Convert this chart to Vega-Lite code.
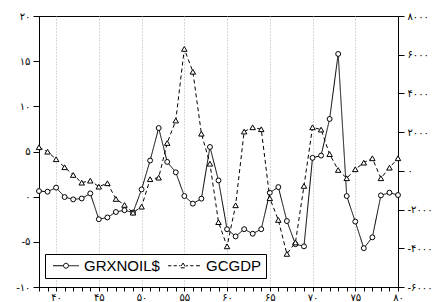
{
  "$schema": "https://vega.github.io/schema/vega-lite/v6.json",
  "autosize": {"type": "none"},
  "width": 359,
  "height": 271,
  "padding": {"left": 39, "top": 16, "right": 39, "bottom": 15},
  "background": "white",
  "config": {
    "view": {"stroke": "black", "strokeWidth": 1},
    "axis": {"domainColor": "black", "tickColor": "black", "labelColor": "black", "labelFont": "DejaVu Sans", "labelFontSize": 10, "title": null, "grid": false, "labelOverlap": false, "labelFlush": false, "labelBound": false}
  },
  "data": {"values": [
    {"year": 38, "grx": 0.62, "gcgdp": 1220},
    {"year": 39, "grx": 0.55, "gcgdp": 990},
    {"year": 40, "grx": 1.0, "gcgdp": 600},
    {"year": 41, "grx": -0.04, "gcgdp": 186},
    {"year": 42, "grx": -0.3, "gcgdp": -212},
    {"year": 43, "grx": -0.2, "gcgdp": -610},
    {"year": 44, "grx": 0.36, "gcgdp": -506},
    {"year": 45, "grx": -2.5, "gcgdp": -816},
    {"year": 46, "grx": -2.3, "gcgdp": -640},
    {"year": 47, "grx": -1.7, "gcgdp": -1450},
    {"year": 48, "grx": -1.5, "gcgdp": -1760},
    {"year": 49, "grx": -1.75, "gcgdp": -2160},
    {"year": 50, "grx": 0.8, "gcgdp": -1850},
    {"year": 51, "grx": 4.0, "gcgdp": -430},
    {"year": 52, "grx": 7.6, "gcgdp": -350},
    {"year": 53, "grx": 3.85, "gcgdp": 1440},
    {"year": 54, "grx": 2.7, "gcgdp": 2600},
    {"year": 55, "grx": 0.07, "gcgdp": 6300},
    {"year": 56, "grx": -0.77, "gcgdp": 5120},
    {"year": 57, "grx": -0.22, "gcgdp": 1920},
    {"year": 58, "grx": 5.5, "gcgdp": 370},
    {"year": 59, "grx": 1.8, "gcgdp": -2650},
    {"year": 60, "grx": -3.6, "gcgdp": -3900},
    {"year": 61, "grx": -4.4, "gcgdp": -1780},
    {"year": 62, "grx": -3.6, "gcgdp": 2030},
    {"year": 63, "grx": -4.1, "gcgdp": 2250},
    {"year": 64, "grx": -3.6, "gcgdp": 2150},
    {"year": 65, "grx": 0.44, "gcgdp": -1415},
    {"year": 66, "grx": 1.06, "gcgdp": -2536},
    {"year": 67, "grx": -2.7, "gcgdp": -4290},
    {"year": 68, "grx": -5.26, "gcgdp": -3700},
    {"year": 69, "grx": -5.5, "gcgdp": -780},
    {"year": 70, "grx": 4.3, "gcgdp": 2250},
    {"year": 71, "grx": 4.55, "gcgdp": 2130},
    {"year": 72, "grx": 8.6, "gcgdp": 865},
    {"year": 73, "grx": 15.8, "gcgdp": 46},
    {"year": 74, "grx": 0.07, "gcgdp": -382},
    {"year": 75, "grx": -2.76, "gcgdp": 83},
    {"year": 76, "grx": -5.7, "gcgdp": 424},
    {"year": 77, "grx": -4.5, "gcgdp": 650},
    {"year": 78, "grx": 0.14, "gcgdp": -382},
    {"year": 79, "grx": 0.44, "gcgdp": 165},
    {"year": 80, "grx": 0.18, "gcgdp": 650}
  ]},
  "encoding": {
    "x": {"field": "year", "type": "quantitative",
      "scale": {"domain": [38, 80], "nice": false, "zero": false},
      "axis": {
        "values": [38,39,40,41,42,43,44,45,46,47,48,49,50,51,52,53,54,55,56,57,58,59,60,61,62,63,64,65,66,67,68,69,70,71,72,73,74,75,76,77,78,79,80],
        "tickSize": 4, "labelPadding": 1, "labelDx": -2,
        "grid": true, "gridColor": "#b0b0b0", "gridDash": [1, 2], "gridWidth": 1,
        "gridOpacity": {"condition": {"test": "datum.value % 5 === 0 && datum.value < 80", "value": 1}, "value": 0},
        "labelExpr": "datum.value % 5 === 0 ? replace(replace(replace(replace(replace(replace(replace(replace(replace(replace(datum.value + '', /0/g, '۰'), /1/g, '۱'), /2/g, '۲'), /3/g, '۳'), /4/g, '۴'), /5/g, '۵'), /6/g, '۶'), /7/g, '۷'), /8/g, '۸'), /9/g, '۹') : ''"
      }
    }
  },
  "layer": [
    {
      "encoding": {
        "y": {"field": "grx", "type": "quantitative",
          "scale": {"domain": [-10, 20], "nice": false, "zero": false},
          "axis": {"orient": "left", "values": [-10, -5, 0, 5, 10, 15, 20], "tickSize": 6, "labelPadding": 3,
            "labelExpr": "replace(replace(replace(replace(replace(replace(replace(replace(replace(replace(datum.value + '', /0/g, '۰'), /1/g, '۱'), /2/g, '۲'), /3/g, '۳'), /4/g, '۴'), /5/g, '۵'), /6/g, '۶'), /7/g, '۷'), /8/g, '۸'), /9/g, '۹')"}}
      },
      "layer": [
        {
          "mark": {"type": "rule", "color": "#606060", "strokeWidth": 1.5},
          "encoding": {"y": {"datum": 0, "type": "quantitative"}}
        },
        {
          "mark": {"type": "line", "color": "black", "strokeWidth": 1},
          "encoding": {
            "strokeDash": {"datum": "GRXNOIL$", "type": "nominal",
              "scale": {"domain": ["GRXNOIL$", "GCGDP"], "range": [[1, 0], [4, 3]]},
              "legend": {
                "title": null, "orient": "none", "legendX": 6, "legendY": 238, "direction": "horizontal",
                "strokeColor": "black", "fillColor": "white", "padding": 4,
                "symbolSize": 169, "symbolStrokeWidth": 1, "symbolStrokeColor": "black",
                "labelFont": "Liberation Sans", "labelFontSize": 15, "labelColor": "black",
                "labelOffset": 20, "columnPadding": 6,
                "encode": {"symbols": {"update": {
                  "shape": {"signal": "datum.value === 'GCGDP' ? 'M-1.6,0H-1.1M-0.75,0H-0.25M0.1,0H0.3M1.15,0H1.45M1.8,0H2.3M2.7,0H3.3M0.7,-0.42L1.16,0.32L0.24,0.32Z' : 'M-0.54,0H1.06M1.86,0H3.46M1.86,0L1.74,0.28L1.46,0.4L1.18,0.28L1.06,0L1.18,-0.28L1.46,-0.4L1.74,-0.28Z'"},
                  "strokeDash": {"value": [1, 0]},
                  "fill": {"value": "transparent"}
                }}}
              }
            }
          }
        },
        {
          "mark": {"type": "point", "shape": "circle", "size": 24, "filled": true, "fill": "white", "stroke": "black", "strokeWidth": 1, "opacity": 1}
        }
      ]
    },
    {
      "encoding": {
        "y": {"field": "gcgdp", "type": "quantitative",
          "scale": {"domain": [-6000, 8000], "nice": false, "zero": false},
          "axis": {"orient": "right", "values": [-6000, -4000, -2000, 0, 2000, 4000, 6000, 8000], "tickSize": 6, "labelPadding": 3,
            "labelExpr": "replace(replace(replace(replace(replace(replace(replace(replace(replace(replace(datum.value + '', /0/g, '۰'), /1/g, '۱'), /2/g, '۲'), /3/g, '۳'), /4/g, '۴'), /5/g, '۵'), /6/g, '۶'), /7/g, '۷'), /8/g, '۸'), /9/g, '۹')"}}
      },
      "layer": [
        {
          "mark": {"type": "line", "color": "black", "strokeWidth": 1},
          "encoding": {
            "strokeDash": {"datum": "GCGDP", "type": "nominal",
              "scale": {"domain": ["GRXNOIL$", "GCGDP"], "range": [[1, 0], [4, 3]]},
              "legend": {
                "title": null, "orient": "none", "legendX": 6, "legendY": 238, "direction": "horizontal",
                "strokeColor": "black", "fillColor": "white", "padding": 4,
                "symbolSize": 169, "symbolStrokeWidth": 1, "symbolStrokeColor": "black",
                "labelFont": "Liberation Sans", "labelFontSize": 15, "labelColor": "black",
                "labelOffset": 20, "columnPadding": 6,
                "encode": {"symbols": {"update": {
                  "shape": {"signal": "datum.value === 'GCGDP' ? 'M-1.6,0H-1.1M-0.75,0H-0.25M0.1,0H0.3M1.15,0H1.45M1.8,0H2.3M2.7,0H3.3M0.7,-0.42L1.16,0.32L0.24,0.32Z' : 'M-0.54,0H1.06M1.86,0H3.46M1.86,0L1.74,0.28L1.46,0.4L1.18,0.28L1.06,0L1.18,-0.28L1.46,-0.4L1.74,-0.28Z'"},
                  "strokeDash": {"value": [1, 0]},
                  "fill": {"value": "transparent"}
                }}}
              }
            }
          }
        },
        {
          "mark": {"type": "point", "shape": "triangle-up", "size": 30, "filled": true, "fill": "white", "stroke": "black", "strokeWidth": 1, "opacity": 1}
        }
      ]
    }
  ],
  "resolve": {"scale": {"y": "independent"}}
}
